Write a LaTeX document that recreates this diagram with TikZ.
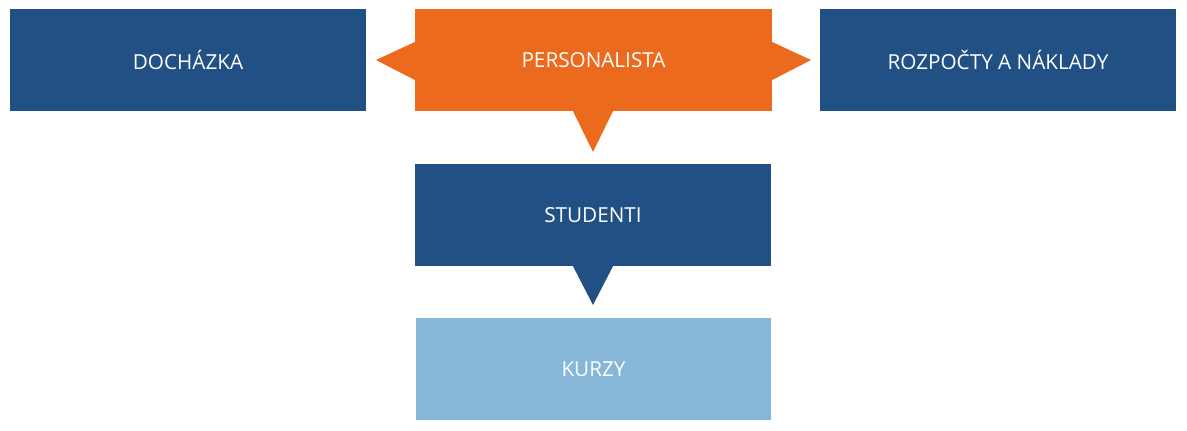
\documentclass[tikz,border=0pt]{standalone}
\usepackage{fontspec}
\setmainfont{Open Sans}
\usetikzlibrary{calc}
\definecolor{dblue}{RGB}{33,80,132}
\definecolor{orng}{RGB}{236,106,30}
\definecolor{lblue}{RGB}{135,183,216}
\tikzset{
  box/.style={rectangle, minimum width=356pt, minimum height=102pt, inner sep=0pt,
    text=white, font=\fontsize{20.7}{24}\selectfont},
}
\begin{document}
\begin{tikzpicture}[x=1pt,y=-1pt]
\useasboundingbox (0,0) rectangle (1187,431);
\node[box, fill=dblue] (doch) at (188,60) {DOCHÁZKA};
\node[box, fill=orng, minimum width=357pt] (pers) at (593.5,60) {PERSONALISTA};
\node[box, fill=dblue] (rozp) at (998,60) {ROZPOČTY A NÁKLADY};
\node[box, fill=dblue] (stud) at (593,215) {STUDENTI};
\node[box, fill=lblue, minimum width=355pt] (kurz) at (593.5,369) {KURZY};
\coordinate (pl) at (376,60);
\coordinate (pr) at (811,60);
\coordinate (pb) at (593,152);
\coordinate (sb) at (593,305);
\fill[orng] ($(pers.west)+(0,-18)$) -- (pl) -- ($(pers.west)+(0,20)$) -- cycle;
\fill[orng] ($(pers.east)+(0,-18)$) -- (pr) -- ($(pers.east)+(0,20)$) -- cycle;
\fill[orng] ($(pers.south)+(-20.5,0)$) -- (pb) -- ($(pers.south)+(19.5,0)$) -- cycle;
\fill[dblue] ($(stud.south)+(-20,0)$) -- (sb) -- ($(stud.south)+(20,0)$) -- cycle;
\end{tikzpicture}
\end{document}
